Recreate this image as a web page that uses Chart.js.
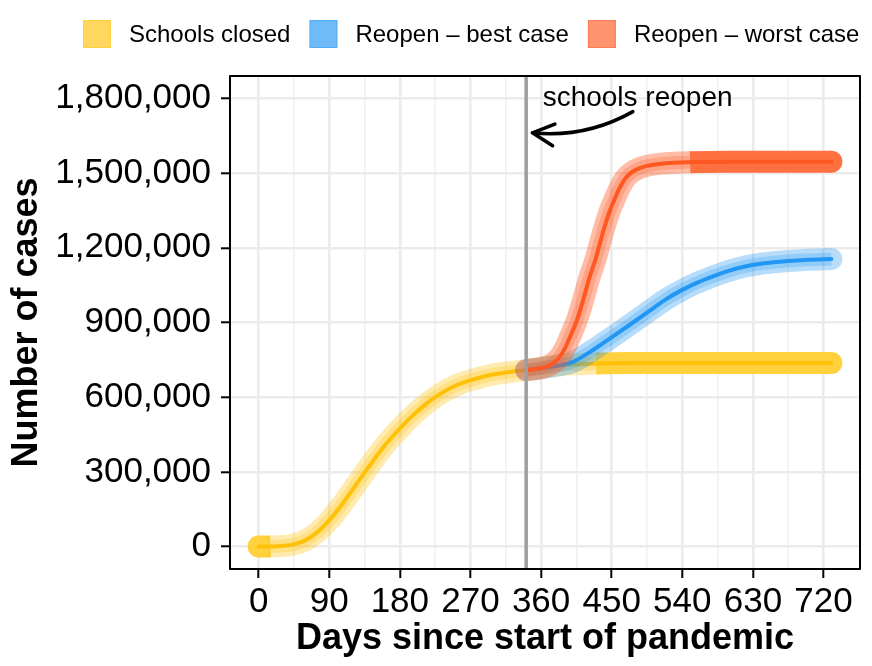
<!DOCTYPE html>
<html>
<head>
<meta charset="utf-8">
<script src="https://cdn.jsdelivr.net/npm/chart.js@4.4.0/dist/chart.umd.min.js"></script>
<style>
  html, body { margin: 0; padding: 0; background: #fff; }
  #wrap { width: 872px; height: 666px; }
</style>
</head>
<body>
<div id="wrap"><canvas id="chart"></canvas></div>
<script>
// values
var seriesNames = ['Schools closed', 'Reopen \u2013 best case', 'Reopen \u2013 worst case'];

var closedDays  = [0, 15, 30, 45, 60, 75, 90, 105, 120, 135, 150, 165, 180, 195, 210, 225, 240, 255, 270, 285, 300, 315, 330, 341, 360, 380, 400, 430, 470, 520, 580, 640, 700, 730];
var closedCases = [0, 500, 2500, 9000, 26000, 58000, 105000, 164000, 230000, 297000, 362000, 422000, 474000, 522000, 564000, 600000, 629000, 652000, 668000, 681000, 692000, 699000, 705000, 709000, 719000, 727000, 732000, 735000, 737000, 737000, 737000, 737000, 737000, 737000];

var bestDays  = [341, 360, 380, 400, 420, 440, 460, 480, 500, 520, 540, 560, 580, 600, 620, 640, 660, 680, 700, 730];
var bestCases = [709000, 716000, 726000, 741000, 777000, 819000, 862000, 906000, 951000, 995000, 1031000, 1061000, 1086000, 1108000, 1125000, 1136000, 1143000, 1148000, 1152000, 1155000];

var worstDays  = [341, 355, 367, 376, 384, 391, 397, 404, 410, 416, 422, 429, 435, 441, 448, 455, 461, 467, 474, 484, 495, 510, 530, 550, 600, 650, 700, 730];
var worstCases = [709000, 714000, 723000, 738000, 763000, 800000, 843000, 895000, 951000, 1017000, 1084000, 1150000, 1218000, 1285000, 1352000, 1405000, 1446000, 1477000, 1500000, 1518000, 1529000, 1537000, 1542000, 1544000, 1546000, 1546000, 1546000, 1546000];

var xTicks = [0, 90, 180, 270, 360, 450, 540, 630, 720];
var yTicks = [0, 300000, 600000, 900000, 1200000, 1500000, 1800000];
var yTickLabels = ['0', '300,000', '600,000', '900,000', '1,200,000', '1,500,000', '1,800,000'];

var reopenDay = 341;
var noteText = 'schools reopen';
var notePos = [483, 1800000];
var arrowFrom = [477, 1747000];
var arrowBend = [417, 1640000];
var arrowTo = [349, 1662000];

var FONT = '"Liberation Sans", Arial, Helvetica, sans-serif';

function rgba(c, a) { return 'rgba(' + c[0] + ',' + c[1] + ',' + c[2] + ',' + a + ')'; }
var amber = [255, 193, 7], blue = [33, 150, 243], orange = [255, 87, 34];
var colors = [amber, blue, orange];

function pts(days, vals) {
    return days.map(function (d, i) { return { x: d, y: vals[i] }; });
}

// three strokes per series: wide halo, narrower halo, centre line.
// where the halo piles up in the original it is drawn as one solid colour
function series(label, days, vals, col, alpha, solid, dense, order) {
    var data = pts(days, vals);
    var last = data.length - 1;
    var common = {
        data: data, pointRadius: 0, pointHoverRadius: 0, fill: false,
        cubicInterpolationMode: 'monotone',
        borderCapStyle: 'round', borderJoinStyle: 'round'
    };
    var capAt = function (ctx) {
        var i = ctx.dataIndex;
        if ((i === 0 || i === last) && dense(data[i].x)) return 11;
        return 0;
    };
    return [
        Object.assign({}, common, {
            label: label, order: order + 2, borderWidth: 22,
            borderColor: rgba(col, alpha),
            pointRadius: capAt, pointBorderWidth: 0, pointBackgroundColor: solid,
            segment: {
                borderColor: function (ctx) { return dense(ctx.p0.parsed.x) ? solid : rgba(col, alpha); },
                borderCapStyle: function (ctx) { return dense(ctx.p0.parsed.x) ? 'butt' : 'round'; }
            }
        }),
        Object.assign({}, common, {
            label: label, order: order + 1, borderWidth: 13,
            borderColor: rgba(col, 0.25), borderCapStyle: 'butt',
            segment: { borderColor: function (ctx) { return dense(ctx.p0.parsed.x) ? rgba(col, 0) : rgba(col, 0.25); } }
        }),
        Object.assign({}, common, {
            label: label, order: order, borderWidth: 4,
            borderColor: rgba(col, 1)
        })
    ];
}

var datasets = []
    .concat(series(seriesNames[0], closedDays, closedCases, amber, 0.32, '#ffd13c', function (x) { return x < 10 || x >= 420; }, 30))
    .concat(series(seriesNames[1], bestDays, bestCases, blue, 0.32, null, function (x) { return false; }, 20))
    .concat(series(seriesNames[2], worstDays, worstCases, orange, 0.4, '#ff7040', function (x) { return x >= 548; }, 10));

function withMinor(major) {
    var out = major.slice();
    for (var i = 0; i < major.length - 1; i++) out.push((major[i] + major[i + 1]) / 2);
    return out.sort(function (a, b) { return a - b; });
}

var decor = {
    id: 'decor',
    afterDatasetsDraw: function (chart) {
        var ctx = chart.ctx, a = chart.chartArea;
        var xs = chart.scales.x, ys = chart.scales.y;
        ctx.save();
        // reopening marker
        var vx = xs.getPixelForValue(reopenDay);
        ctx.strokeStyle = '#9e9e9e';
        ctx.lineWidth = 3.5;
        ctx.beginPath();
        ctx.moveTo(vx, a.top);
        ctx.lineTo(vx, a.bottom);
        ctx.stroke();

        // annotation
        ctx.fillStyle = '#000';
        ctx.font = '28px ' + FONT;
        ctx.textAlign = 'center';
        ctx.textBaseline = 'middle';
        ctx.fillText(noteText, xs.getPixelForValue(notePos[0]), ys.getPixelForValue(notePos[1]));

        var p0 = [xs.getPixelForValue(arrowFrom[0]), ys.getPixelForValue(arrowFrom[1])];
        var c = [xs.getPixelForValue(arrowBend[0]), ys.getPixelForValue(arrowBend[1])];
        var p2 = [xs.getPixelForValue(arrowTo[0]), ys.getPixelForValue(arrowTo[1])];
        ctx.strokeStyle = '#000';
        ctx.lineWidth = 3.5;
        ctx.lineCap = 'round';
        ctx.lineJoin = 'round';
        ctx.beginPath();
        ctx.moveTo(p0[0], p0[1]);
        ctx.quadraticCurveTo(c[0], c[1], p2[0], p2[1]);
        ctx.stroke();
        var ang = Math.atan2(p2[1] - c[1], p2[0] - c[0]) + Math.PI;
        var L = 24, h = 0.47;
        ctx.beginPath();
        ctx.moveTo(p2[0] + L * Math.cos(ang - h), p2[1] + L * Math.sin(ang - h));
        ctx.lineTo(p2[0], p2[1]);
        ctx.lineTo(p2[0] + L * Math.cos(ang + h), p2[1] + L * Math.sin(ang + h));
        ctx.stroke();

        // panel border
        ctx.strokeStyle = '#000';
        ctx.lineWidth = 2;
        ctx.lineCap = 'butt';
        ctx.strokeRect(a.left, a.top, a.right - a.left, a.bottom - a.top);
        ctx.restore();
    },
    afterDraw: function (chart) {
        // legend across the top
        var ctx = chart.ctx;
        ctx.save();
        ctx.font = '24px ' + FONT;
        ctx.textBaseline = 'middle';
        ctx.textAlign = 'left';
        var x = 83;
        for (var i = 0; i < seriesNames.length; i++) {
            ctx.fillStyle = rgba(colors[i], 0.65);
            ctx.fillRect(x, 20, 28, 28);
            ctx.strokeStyle = rgba(colors[i], 0.35);
            ctx.lineWidth = 1;
            ctx.strokeRect(x + 0.5, 20.5, 27, 27);
            ctx.fillStyle = '#000';
            ctx.fillText(seriesNames[i], x + 28 + 18, 35);
            x += 28 + 18 + ctx.measureText(seriesNames[i]).width + 19;
        }
        ctx.restore();
    }
};

var isMajorX = function (v) { return xTicks.indexOf(v) !== -1; };
var isMajorY = function (v) { return yTicks.indexOf(v) !== -1; };

new Chart(document.getElementById('chart'), {
    type: 'line',
    data: { datasets: datasets },
    options: {
        responsive: true,
        maintainAspectRatio: false,
        animation: false,
        layout: { padding: { top: 76, right: 12, left: 0, bottom: 0 } },
        plugins: {
            legend: { display: false },
            tooltip: { enabled: false }
        },
        scales: {
            x: {
                type: 'linear',
                min: -36.5,
                max: 766.5,
                afterBuildTicks: function (scale) {
                    scale.ticks = withMinor(xTicks).map(function (v) { return { value: v }; });
                },
                afterFit: function (scale) { scale.height = 97; },
                border: { display: false },
                grid: {
                    color: function (c) { return c.tick && isMajorX(c.tick.value) ? '#ebebeb' : '#f0f0f0'; },
                    lineWidth: function (c) { return c.tick && isMajorX(c.tick.value) ? 2.6 : 1.6; },
                    tickColor: function (c) { return c.tick && isMajorX(c.tick.value) ? '#000' : 'rgba(0,0,0,0)'; },
                    tickWidth: 2,
                    tickLength: 9
                },
                ticks: {
                    autoSkip: false, maxRotation: 0, minRotation: 0,
                    color: '#000', padding: 3,
                    font: { family: FONT, size: 35 },
                    callback: function (v) { return isMajorX(v) ? String(v) : ''; }
                },
                title: {
                    display: true, text: 'Days since start of pandemic', color: '#000',
                    font: { family: FONT, size: 36, weight: 'bold' },
                    padding: { top: 0, bottom: 5 }
                }
            },
            y: {
                type: 'linear',
                min: -90000,
                max: 1890000,
                afterBuildTicks: function (scale) {
                    scale.ticks = withMinor(yTicks).map(function (v) { return { value: v }; });
                },
                afterFit: function (scale) { scale.width = 230; },
                border: { display: false },
                grid: {
                    color: function (c) { return c.tick && isMajorY(c.tick.value) ? '#ebebeb' : '#f0f0f0'; },
                    lineWidth: function (c) { return c.tick && isMajorY(c.tick.value) ? 2.6 : 1.6; },
                    tickColor: function (c) { return c.tick && isMajorY(c.tick.value) ? '#000' : 'rgba(0,0,0,0)'; },
                    tickWidth: 2,
                    tickLength: 9
                },
                ticks: {
                    color: '#000', padding: 10,
                    font: { family: FONT, size: 35 },
                    callback: function (v) { return isMajorY(v) ? yTickLabels[yTicks.indexOf(v)] : ''; }
                },
                title: {
                    display: true, text: 'Number of cases', color: '#000',
                    font: { family: FONT, size: 36, weight: 'bold' },
                    padding: { top: 5, bottom: 0 }
                }
            }
        }
    },
    plugins: [decor]
});
</script>
</body>
</html>
